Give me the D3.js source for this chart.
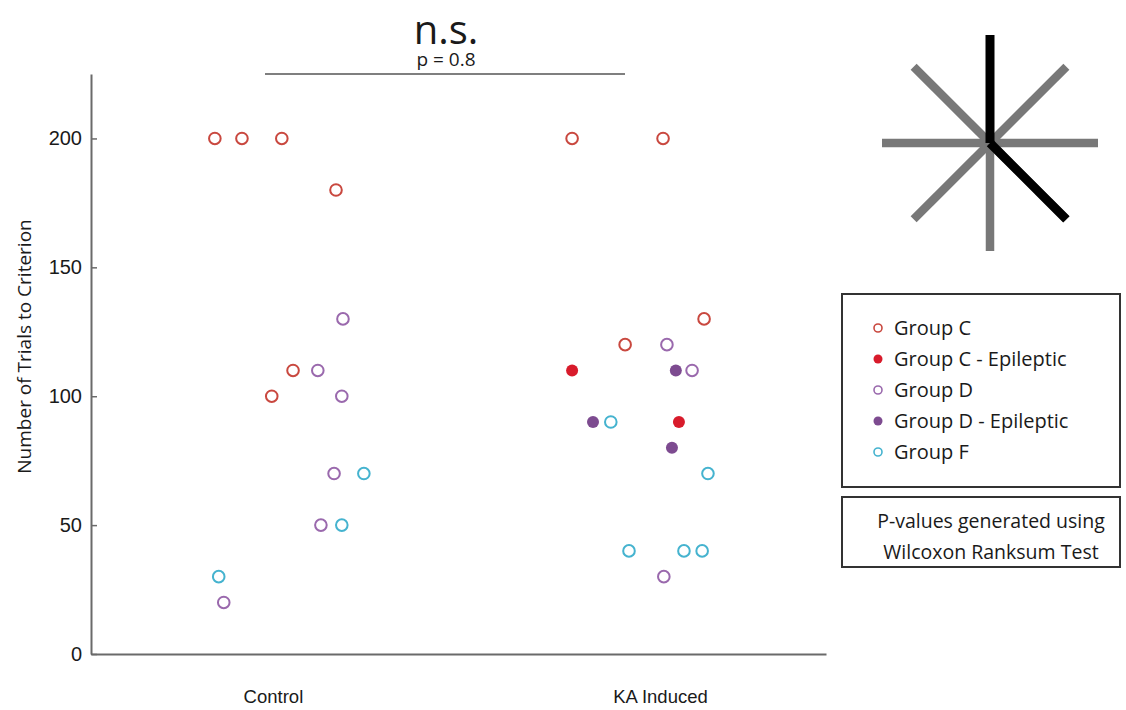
<!DOCTYPE html>
<html>
<head>
<meta charset="utf-8">
<script src="https://cdn.jsdelivr.net/npm/d3@7/dist/d3.min.js"></script>
<style>
  html, body { margin: 0; padding: 0; background: #fff; }
  svg { display: block; font-family: "Open Sans", "Noto Sans", sans-serif; }
</style>
</head>
<body>
<svg id="chart" width="1126" height="710"></svg>
<script>
// Conditions on the x axis
const categories = ["Control", "KA Induced"];
const yTicks = [0, 50, 100, 150, 200];

// Each point: [condition index, horizontal jitter, trials to criterion]
const groupC = [
  [0, -0.150, 200], [0, -0.080, 200], [0, 0.023, 200], [0, 0.163, 180],
  [0, -0.003, 100], [0, 0.052, 110],
  [1, -0.227, 200], [1, 0.008, 200], [1, 0.114, 130], [1, -0.090, 120]
];
const groupCEpileptic = [
  [1, -0.227, 110], [1, 0.049, 90]
];
const groupD = [
  [0, 0.181, 130], [0, 0.116, 110], [0, 0.178, 100], [0, 0.158, 70],
  [0, 0.124, 50], [0, -0.127, 20],
  [1, 0.018, 120], [1, 0.083, 110], [1, 0.010, 30]
];
const groupDEpileptic = [
  [1, 0.041, 110], [1, -0.173, 90], [1, 0.031, 80]
];
const groupF = [
  [0, 0.235, 70], [0, 0.178, 50], [0, -0.140, 30],
  [1, -0.127, 90], [1, 0.124, 70], [1, -0.080, 40], [1, 0.062, 40], [1, 0.109, 40]
];

const seriesNames = ["Group C", "Group C - Epileptic", "Group D", "Group D - Epileptic", "Group F"];
const pValue = 0.8;

// Direction glyph: spoke angles (degrees, clockwise from up)
const greySpokes = [45, 90, 135, 180, 225, 270, 315];
const blackSpokes = [0, 135];

const series = [
  { name: seriesNames[0], data: groupC, color: "#c9483f", filled: false },
  { name: seriesNames[1], data: groupCEpileptic, color: "#d81b2b", filled: true },
  { name: seriesNames[2], data: groupD, color: "#9a69ad", filled: false },
  { name: seriesNames[3], data: groupDEpileptic, color: "#7d4b90", filled: true },
  { name: seriesNames[4], data: groupF, color: "#45b3cf", filled: false }
];

const svg = d3.select("#chart");
svg.append("rect").attr("width", 1126).attr("height", 710).attr("fill", "#fff");

const x = d3.scaleLinear().domain([-0.470, 1.429]).range([91, 826]);
const y = d3.scaleLinear().domain([0, 225]).range([654, 74]);

// y axis with inward ticks
const yAxis = svg.append("g")
  .attr("transform", "translate(91,0)")
  .call(d3.axisLeft(y).tickValues(yTicks).tickSizeInner(-6).tickSizeOuter(0).tickPadding(9));
yAxis.select(".domain").attr("stroke", "#6a6a6a").attr("stroke-width", 2);
yAxis.selectAll(".tick line").attr("stroke", "#6a6a6a").attr("stroke-width", 1.5);
yAxis.selectAll(".tick text").attr("fill", "#1a1a1a").style("font-size", "20px");

// x axis: baseline plus condition labels
const xAxis = svg.append("g")
  .attr("transform", "translate(0,654)")
  .call(d3.axisBottom(x).tickValues([0, 1]).tickFormat(i => categories[i]).tickSize(0).tickPadding(36));
xAxis.select(".domain").attr("stroke", "#6a6a6a").attr("stroke-width", 2);
xAxis.selectAll(".tick text").attr("fill", "#1a1a1a").style("font-size", "18.5px");

// y axis title
svg.append("text")
  .attr("transform", `translate(31,${(215 + 478) / 2}) rotate(-90)`)
  .attr("text-anchor", "middle")
  .attr("fill", "#1a1a1a")
  .style("font-size", "19px")
  .text("Number of Trials to Criterion");

// Points
series.forEach(s => {
  svg.append("g").selectAll("circle")
    .data(s.data)
    .join("circle")
    .attr("cx", d => x(d[0] + d[1]))
    .attr("cy", d => y(d[2]))
    .attr("r", s.filled ? 6 : 5.8)
    .attr("fill", s.filled ? s.color : "#fff")
    .attr("stroke", s.color)
    .attr("stroke-width", s.filled ? 0 : 2);
});

// Significance bracket
svg.append("line")
  .attr("x1", 265).attr("x2", 625).attr("y1", 74).attr("y2", 74)
  .attr("stroke", "#555").attr("stroke-width", 1.5);
svg.append("text")
  .attr("x", 446).attr("y", 43.5).attr("text-anchor", "middle")
  .attr("fill", "#1a1a1a").style("font-size", "40px")
  .text("n.s.");
svg.append("text")
  .attr("x", 446).attr("y", 66).attr("text-anchor", "middle")
  .attr("fill", "#1a1a1a").style("font-size", "19px")
  .text(`p = ${pValue}`);

// Direction glyph
const cx0 = 990, cy0 = 143, rad = 108;
const spoke = a => {
  const t = a * Math.PI / 180;
  return { x2: cx0 + rad * Math.sin(t), y2: cy0 - rad * Math.cos(t) };
};
svg.append("g").selectAll("line")
  .data(greySpokes)
  .join("line")
  .attr("x1", cx0).attr("y1", cy0)
  .attr("x2", d => spoke(d).x2).attr("y2", d => spoke(d).y2)
  .attr("stroke", "#787878").attr("stroke-width", 8.5);
svg.append("g").selectAll("line")
  .data(blackSpokes)
  .join("line")
  .attr("x1", cx0).attr("y1", cy0)
  .attr("x2", d => spoke(d).x2).attr("y2", d => spoke(d).y2)
  .attr("stroke", "#000").attr("stroke-width", 9);

// Legend
const legend = svg.append("g");
legend.append("rect")
  .attr("x", 842).attr("y", 294).attr("width", 278).attr("height", 193)
  .attr("fill", "#fff").attr("stroke", "#333").attr("stroke-width", 2);
const rows = legend.selectAll("g.row")
  .data(series)
  .join("g")
  .attr("class", "row")
  .attr("transform", (d, i) => `translate(878,${328 + i * 31})`);
rows.append("circle")
  .attr("r", d => d.filled ? 4.5 : 4)
  .attr("fill", d => d.filled ? d.color : "#fff")
  .attr("stroke", d => d.color)
  .attr("stroke-width", d => d.filled ? 0 : 1.6);
rows.append("text")
  .attr("x", 16).attr("dy", "0.35em")
  .attr("fill", "#1a1a1a").style("font-size", "20px")
  .text(d => d.name);

// Test note
legend.append("rect")
  .attr("x", 842).attr("y", 497).attr("width", 278).attr("height", 70)
  .attr("fill", "#fff").attr("stroke", "#333").attr("stroke-width", 2);
legend.append("text")
  .attr("x", 991).attr("y", 521).attr("dy", "0.35em").attr("text-anchor", "middle")
  .attr("fill", "#1a1a1a").style("font-size", "19.5px")
  .text("P-values generated using");
legend.append("text")
  .attr("x", 991).attr("y", 552).attr("dy", "0.35em").attr("text-anchor", "middle")
  .attr("fill", "#1a1a1a").style("font-size", "19.5px")
  .text("Wilcoxon Ranksum Test");
</script>
</body>
</html>
